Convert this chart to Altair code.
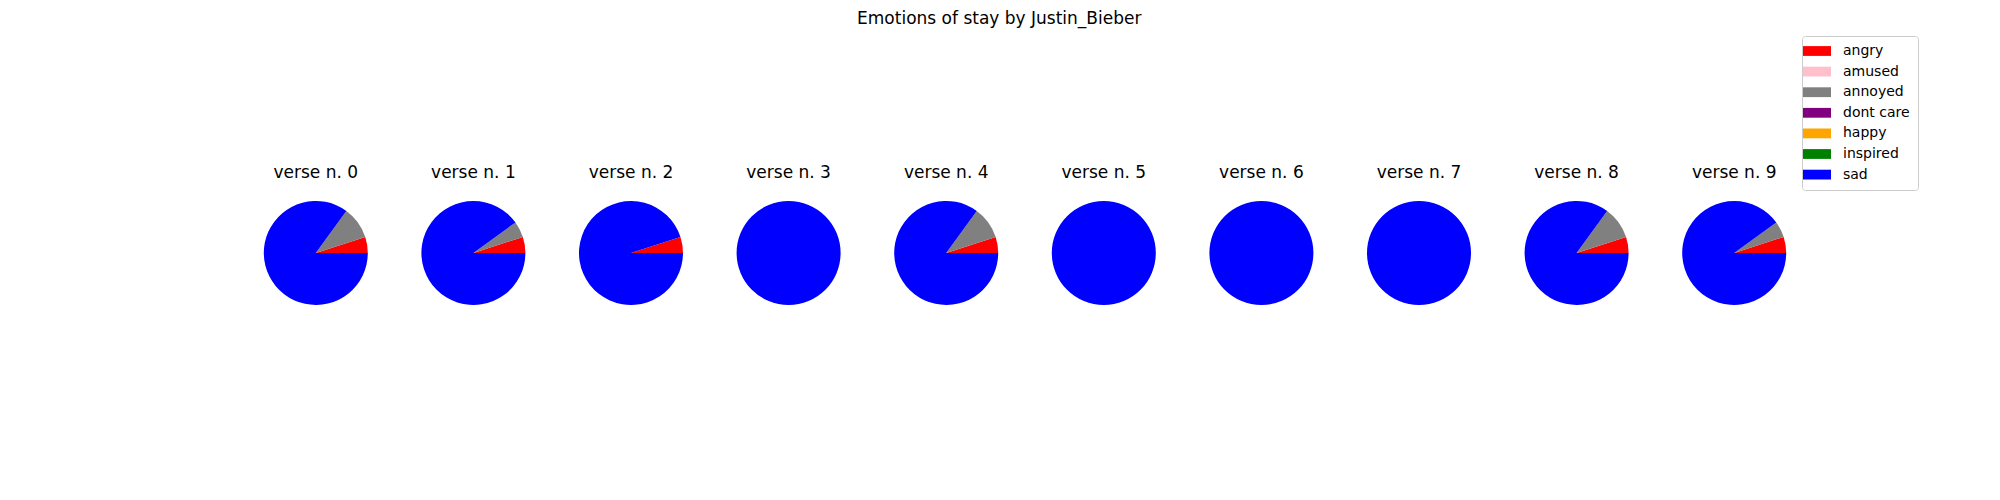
import altair as alt
import pandas as pd

emotions = ["angry", "amused", "annoyed", "dont care", "happy", "inspired", "sad"]
colors = ["#ff0000", "#ffc0cb", "#808080", "#800080", "#ffa500", "#008000", "#0000ff"]

verses = [0, 1, 2, 3, 4, 5, 6, 7, 8, 9]
angry = [1, 1, 1, 0, 1, 0, 0, 0, 1, 1]
annoyed = [2, 1, 0, 0, 2, 0, 0, 0, 2, 1]
sad = [17, 18, 19, 20, 17, 20, 20, 20, 17, 18]

rows = []
for i, v in enumerate(verses):
    first = True
    for emo, vals in (("angry", angry), ("annoyed", annoyed), ("sad", sad)):
        if vals[i] > 0:
            rows.append({"verse": f"verse n. {v}", "vi": v, "emotion": emo,
                         "eo": emotions.index(emo), "count": vals[i],
                         "first": 1 if first else 0})
            first = False
df = pd.DataFrame(rows)
labels = [f"verse n. {v}" for v in verses]

FONT = "DejaVu Sans"
CELL_TOP = 30

arc = alt.Chart().mark_arc(outerRadius=52, stroke=None).encode(
    x=alt.value(65.8),
    y=alt.value(253 - CELL_TOP),
    theta=alt.Theta("count:Q", stack="normalize",
                    scale=alt.Scale(domain=[0, 1], range=[1.5707963, -4.7123890])),
    color=alt.Color("emotion:N",
                    scale=alt.Scale(domain=emotions, range=colors),
                    legend=alt.Legend(
                        title=None, orient="none", legendX=1552, legendY=36 - CELL_TOP,
                        symbolType="M-2,-0.7L2,-0.7L2,0.7L-2,0.7Z",
                        symbolSize=196, symbolStrokeWidth=0,
                        labelFont=FONT, labelFontSize=14, labelColor="black",
                        labelOffset=19, rowPadding=6.6,
                        strokeColor="#cccccc", cornerRadius=3, padding=8,
                        fillColor="white")),
    order=alt.Order("eo:Q"),
)

txt = alt.Chart().transform_filter("datum.first == 1").mark_text(
    font=FONT, fontSize=17, color="black", baseline="middle", align="center"
).encode(
    x=alt.value(65.8),
    y=alt.value(173 - CELL_TOP),
    text="verse:N",
)

inner = alt.layer(arc, txt, data=df).properties(
    width=131, height=300, view=alt.ViewBackground(strokeWidth=0, strokeOpacity=0)
)

chart = inner.facet(
    column=alt.Column("verse:N", sort=labels, header=alt.Header(title=None, labels=False)),
    spacing=26.6,
).properties(
    title=alt.TitleParams("Emotions of stay by Justin_Bieber", font=FONT, fontSize=17,
                          fontWeight="normal", color="black", anchor="middle",
                          dx=-85, offset=2),
    padding={"left": 242, "top": 2, "right": 0, "bottom": 0},
).configure_view(strokeWidth=0, strokeOpacity=0).configure(
    background="white", style={"cell": {"strokeWidth": 0, "strokeOpacity": 0}}
)

chart.save("out.html", embed_options={"renderer": "svg", "actions": False})
